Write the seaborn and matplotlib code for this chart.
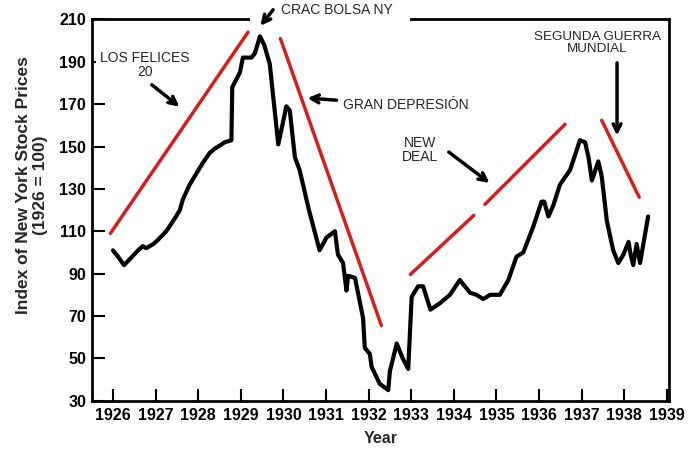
import matplotlib
matplotlib.use("Agg")
import matplotlib.pyplot as plt
import matplotlib.patches as mpatches
import seaborn as sns
import pandas as pd

# traced index of New York stock prices (1926 = 100)
years = [1926.00, 1926.12, 1926.26, 1926.45, 1926.59, 1926.70, 1926.78, 1926.95,
         1927.06, 1927.25, 1927.45, 1927.57, 1927.64, 1927.80, 1927.95, 1928.10,
         1928.27, 1928.39, 1928.55, 1928.62, 1928.78, 1928.80, 1928.98, 1929.05,
         1929.25, 1929.33, 1929.45, 1929.55, 1929.68, 1929.88, 1930.07, 1930.15,
         1930.27, 1930.38, 1930.60, 1930.85, 1931.01, 1931.21, 1931.28, 1931.40,
         1931.48, 1931.52, 1931.68, 1931.87, 1931.91, 1932.03, 1932.07, 1932.26,
         1932.46, 1932.50, 1932.66, 1932.80, 1932.93, 1933.01, 1933.16, 1933.28,
         1933.45, 1933.67, 1933.91, 1934.14, 1934.38, 1934.53, 1934.69, 1934.85,
         1935.08, 1935.28, 1935.47, 1935.63, 1935.86, 1936.06, 1936.12, 1936.22,
         1936.33, 1936.49, 1936.73, 1936.96, 1937.08, 1937.16, 1937.24, 1937.39,
         1937.47, 1937.59, 1937.74, 1937.86, 1937.98, 1938.10, 1938.15, 1938.21,
         1938.29, 1938.37, 1938.56]
index = [101, 98, 94, 98, 101, 103, 102, 104,
         106, 110, 116, 120, 125, 132, 137, 142,
         147, 149, 151, 152, 153, 178, 185, 192,
         192, 194, 202, 198, 189, 151, 169, 167,
         145, 139, 120, 101, 107, 110, 99, 95,
         82, 89, 88, 69, 55, 52, 46, 38,
         35, 44, 57, 50, 45, 79, 84, 84,
         73, 76, 80, 87, 81, 80, 78, 80,
         80, 87, 98, 100, 112, 124, 124, 117,
         122, 132, 139, 153, 152, 145, 134, 143,
         136, 115, 101, 95, 99, 105, 99, 94,
         104, 95, 117]

# red trend strokes drawn over the chart (start, end)
trend_x = [[1925.94, 1929.17], [1929.93, 1932.30], [1932.98, 1934.47],
           [1934.73, 1936.61], [1937.47, 1938.35]]
trend_y = [[109, 204], [201, 65.5], [89.6, 117.5], [122.7, 160.5], [162.4, 126.1]]

year_ticks = list(range(1926, 1940))
value_ticks = list(range(30, 211, 20))

sns.set_style("ticks")
plt.rcParams["font.family"] = ["Liberation Sans", "DejaVu Sans"]

fig = plt.figure(figsize=(6.89, 4.54), dpi=100)
ax = fig.add_axes([0.133, 0.1174, 0.838, 0.8397])

df = pd.DataFrame({"year": years, "index": index})
sns.lineplot(data=df, x="year", y="index", sort=False, color="black",
             linewidth=3, ax=ax)

for tx, ty in zip(trend_x, trend_y):
    sns.lineplot(x=tx, y=ty, color="#d41f1f", linewidth=2.5, ax=ax)

ax.set_xlim(1925.5, 1939.05)
ax.set_ylim(30, 210)
ax.set_xticks(year_ticks)
ax.set_yticks(value_ticks)
ax.tick_params(axis="both", direction="in", length=9, width=1.5,
               labelsize=11.5, colors="black")
ax.tick_params(axis="y", pad=4)
ax.tick_params(axis="x", pad=5)
for lab in ax.get_xticklabels() + ax.get_yticklabels():
    lab.set_fontweight("bold")
for sp in ax.spines.values():
    sp.set_linewidth(2)
    sp.set_color("black")

ax.set_xlabel("Year", fontsize=11.5, fontweight="bold", labelpad=6)
ax.set_ylabel("Index of New York Stock Prices\n(1926 = 100)", fontsize=12.5,
              fontweight="bold")
ax.yaxis.set_label_coords(-0.075, 0.565)

arrow = dict(arrowstyle="->", color="black", lw=2.5, mutation_scale=14)
box = dict(facecolor="white", edgecolor="none", pad=3)

# white patch pasted over the top frame behind the crash label
ax.add_patch(mpatches.Rectangle((0.274, 0.983), 0.277, 0.07, transform=ax.transAxes,
                                facecolor="white", edgecolor="none",
                                clip_on=False, zorder=3))
ax.text(1929.94, 214.6, "CRAC BOLSA NY", fontsize=10, ha="left", va="center",
        clip_on=False, zorder=4)
ax.annotate("", xy=(1929.42, 206), xytext=(1929.80, 215.6), arrowprops=arrow,
            annotation_clip=False, zorder=4)

ax.text(1926.75, 188.4, "LOS FELICES\n20", fontsize=10, ha="center", va="center",
        bbox=box, linespacing=1.0)
ax.annotate("", xy=(1927.61, 168), xytext=(1926.86, 180), arrowprops=arrow)

ax.annotate("GRAN DEPRESIÓN", xy=(1930.5, 173), xytext=(1931.39, 169.5),
            fontsize=10, ha="left", va="center", arrowprops=arrow)

ax.text(1933.2, 148.2, "NEW\nDEAL", fontsize=10, ha="center", va="center",
        linespacing=1.0)
ax.annotate("", xy=(1934.89, 132), xytext=(1933.83, 148.2), arrowprops=arrow)

ax.text(1937.36, 198.8, "SEGUNDA GUERRA\nMUNDIAL", fontsize=9.7, ha="center",
        va="center", linespacing=1.0, bbox=box)
ax.annotate("", xy=(1937.83, 153.9), xytext=(1937.83, 190.8), arrowprops=arrow)

fig.savefig("out.png", dpi=100)
